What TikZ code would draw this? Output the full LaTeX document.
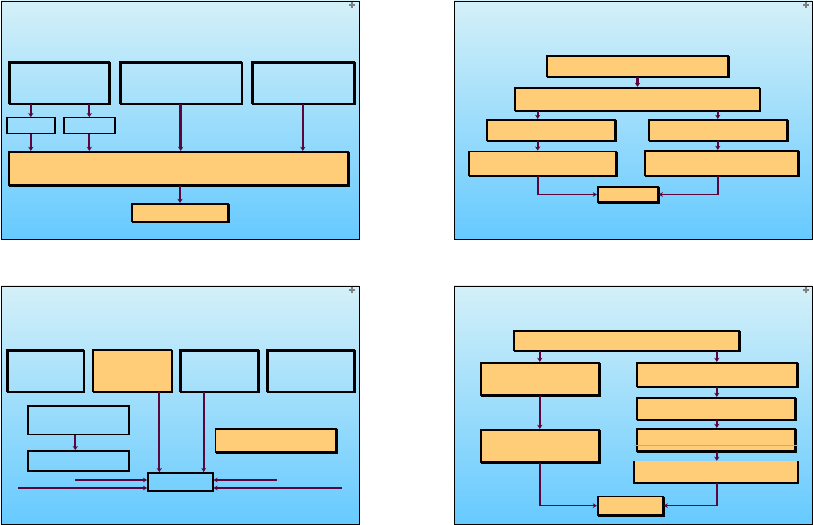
\documentclass[tikz,border=0pt]{standalone}
\usetikzlibrary{positioning, fit, shadows, arrows, arrows.meta}
\definecolor{slidetop}{RGB}{212,240,248}
\definecolor{slidebot}{RGB}{102,202,255}
\definecolor{boxorange}{RGB}{255,204,120}
\definecolor{linkpurple}{RGB}{92,4,60}
\tikzstyle{arrow} = [linkpurple, line width=2pt, ->, >={Stealth[length=3.5pt,width=4.5pt]}]
\tikzstyle{thinarrow} = [linkpurple, line width=1.4pt, ->, >={Stealth[length=3.5pt,width=4pt]}]

\begin{document}
\begin{tikzpicture}[x=0.3mm, y=-0.3mm,
slide/.style={draw=black, line width=0.8pt, top color=slidetop, bottom color=slidebot},
bluebox/.style={draw=black, line width=1.6pt, inner sep=0pt,
  general shadow={draw=black, fill=none, line width=1.6pt, shadow xshift=0.9pt, shadow yshift=-0.9pt}},
orangebox/.style={bluebox, fill=boxorange},
smallbox/.style={draw=black, line width=1.2pt, inner sep=0pt},
cornermark/.style={gray, line width=0.9pt}
]
\useasboundingbox[fill=white] (0,0) rectangle (813,525);

% the four slides
\draw[slide] (1,1) rectangle (359,239);
\draw[slide] (454,1) rectangle (812,239);
\draw[slide] (1,286) rectangle (359,524);
\draw[slide] (454,286) rectangle (812,524);
\draw[cornermark] (349,5) -- (355,5) (352,2) -- (352,8);
\draw[cornermark] (803,5) -- (809,5) (806,2) -- (806,8);
\draw[cornermark] (349,290) -- (355,290) (352,287) -- (352,293);
\draw[cornermark] (803,290) -- (809,290) (806,287) -- (806,293);

% slide 1
\node[bluebox, fit={(8.8,61.8)(108.8,103.5)}] (a1) {};
\node[bluebox, fit={(119.8,61.8)(241.5,103.5)}] (a2) {};
\node[bluebox, fit={(251.8,61.8)(353.8,103.5)}] (a3) {};
\node[smallbox, fit={(6.8,117.8)(54.8,133.8)}] (d1) {};
\node[smallbox, fit={(63.8,117.8)(114.8,133.8)}] (d2) {};
\node[orangebox, fit={(8.8,151.8)(347.8,185.2)}] (f1) {};
\node[orangebox, fit={(132.2,203.8)(227.8,221.5)}] (g1) {};
\draw[arrow] (a1.south -| d1.north) -- (d1.north);
\draw[arrow] (a1.south -| d2.north) -- (d2.north);
\draw[arrow] (d1.south) -- (d1.south |- f1.north);
\draw[arrow] (d2.south) -- (d2.south |- f1.north);
\draw[arrow] (a2.south) -- (a2.south |- f1.north);
\draw[arrow] (a3.south) -- (a3.south |- f1.north);
\draw[arrow] (f1.south -| g1.north) -- (g1.north);

% slide 2
\coordinate (lcol) at (537.7,0);
\node[orangebox, fit={(547.2,56.2)(727.8,76.5)}] (b1) {};
\node[orangebox, fit={(514.8,87.8)(759.5,110.5)}] (b2) {};
\node[orangebox, fit={(486.8,119.8)(614.8,140.5)}] (b3l) {};
\node[orangebox, fit={(648.8,119.8)(786.8,140.5)}] (b3r) {};
\node[orangebox, fit={(468.8,151.5)(616.2,175.5)}] (b4l) {};
\node[orangebox, fit={(644.8,150.8)(797.8,175.5)}] (b4r) {};
\node[orangebox, fit={(597.8,187.2)(657.8,201.8)}] (b5) {};
\draw[arrow] (b1.south) -- (b1.south |- b2.north);
\draw[arrow] (b2.south -| lcol) -- (b3l.north -| lcol);
\draw[arrow] (b2.south -| b3r.north) -- (b3r.north);
\draw[arrow] (b3l.south -| lcol) -- (b4l.north -| lcol);
\draw[arrow] (b3r.south) -- (b3r.south |- b4r.north);
\draw[thinarrow] (b4l.south -| lcol) |- (b5.west);
\draw[thinarrow] (b4r.south -| b3r.south) |- (b5.east);

% slide 3
\coordinate (col1) at (159.3,0);
\coordinate (col2) at (203.7,0);
\coordinate (w1) at (75.3,480);
\coordinate (w2) at (18.3,488);
\coordinate (e1) at (276.7,480);
\coordinate (e2) at (341.7,488);
\node[bluebox, fit={(6.8,349.8)(83.5,391.5)}] (c1) {};
\node[orangebox, fit={(93.2,349.8)(171.5,391.5)}] (c2) {};
\node[bluebox, fit={(179.8,349.8)(257.8,391.5)}] (c3) {};
\node[bluebox, fit={(266.8,349.8)(353.8,391.5)}] (c4) {};
\node[smallbox, fit={(27.8,405.8)(128.8,434.5)}] (q1) {};
\node[smallbox, fit={(27.8,450.8)(128.8,470.8)}] (q2) {};
\node[orangebox, fit={(215.5,428.8)(336.2,451.8)}] (r1) {};
\node[smallbox, fit={(147.8,472.8)(212.8,490.8)}] (s1) {};
\draw[arrow] (q1.south -| w1) -- (q2.north -| w1);
\draw[arrow] (c2.south -| col1) -- (s1.north -| col1);
\draw[thinarrow] (c3.south -| col2) -- (s1.north -| col2);
\draw[thinarrow] (w1) -- (w1 -| s1.west);
\draw[thinarrow] (w2) -- (w2 -| s1.west);
\draw[thinarrow] (e1) -- (e1 -| s1.east);
\draw[thinarrow] (e2) -- (e2 -| s1.east);

% slide 4
\node[orangebox, fit={(513.8,331.2)(738.8,350.5)}] (t1) {};
\node[orangebox, fit={(480.8,362.8)(598.8,394.8)}] (l1) {};
\node[orangebox, fit={(480.8,429.8)(598.8,461.8)}] (l2) {};
\node[orangebox, fit={(636.8,362.8)(796.8,386.5)}] (k1) {};
\node[orangebox, fit={(636.8,397.8)(794.8,419.5)}] (k2) {};
\node[orangebox, fit={(636.8,428.8)(794.8,450.8)}] (k3) {};
\node[fill=boxorange, inner sep=0pt, fit={(633.8,461)(797.8,482.8)}] (k4) {};
\draw[black, line width=1.6pt] (k4.north west) -- (k4.south west) -- (k4.south east) -- (k4.north east);
\draw[black!20!boxorange!50!slidebot, line width=0.6pt] (k4.west |- k3.south) ++(0,-6) coordinate (gl) -- (gl -| k4.east);
\node[orangebox, fit={(597.8,496.5)(662.8,514.8)}] (bb) {};
\draw[arrow] (t1.south -| l1.north) -- (l1.north);
\draw[arrow] (t1.south -| k1.north) -- (k1.north);
\draw[arrow] (l1.south) -- (l2.north);
\draw[arrow] (k1.south) -- (k1.south |- k2.north);
\draw[arrow] (k2.south -| k1.south) -- (k1.south |- k3.north);
\draw[arrow] (k3.south -| k1.south) -- (k1.south |- k4.north);
\draw[thinarrow] (l2.south) |- (bb.west);
\draw[thinarrow] (k4.south -| k1.south) |- (bb.east);
\end{tikzpicture}
\end{document}
